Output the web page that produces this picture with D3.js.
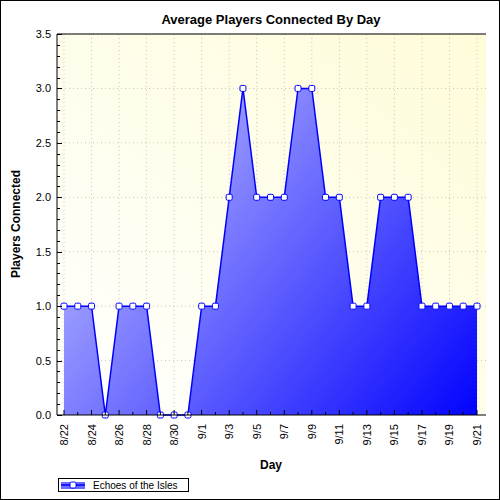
<!DOCTYPE html><html><head><script src="https://cdn.jsdelivr.net/npm/d3@7"></script>
<style>body{margin:0}text{font-family:"Liberation Sans",Arial,sans-serif}</style></head><body><svg id="c" width="500" height="500"></svg>
<script>
const days=["8/22","8/23","8/24","8/25","8/26","8/27","8/28","8/29","8/30","8/31","9/1","9/2","9/3","9/4","9/5","9/6","9/7","9/8","9/9","9/10","9/11","9/12","9/13","9/14","9/15","9/16","9/17","9/18","9/19","9/20","9/21"];
const values=[1,1,1,0,1,1,1,0,0,0,1,1,2,3,2,2,2,3,3,2,2,1,1,2,2,2,1,1,1,1,1];
const yTicks=[0,0.5,1,1.5,2,2.5,3,3.5];
const seriesName="Echoes of the Isles";
const svg=d3.select("#c");
const L=57,R=486,T=34,B=415;
const x=d3.scaleLinear().domain([0,days.length-1]).range([64,477]);
const y=d3.scaleLinear().domain([0,3.5]).range([B,T]);
const defs=svg.append("defs");
const bg=defs.append("linearGradient").attr("id","bg").attr("x1","0").attr("y1","1").attr("x2","1").attr("y2","0");
bg.append("stop").attr("offset","0").attr("stop-color","#ffffff");
bg.append("stop").attr("offset","1").attr("stop-color","#fefcd8");
const fg=defs.append("linearGradient").attr("id","fg").attr("gradientUnits","userSpaceOnUse").attr("x1",L).attr("y1",T+40).attr("x2",R).attr("y2",B);
fg.append("stop").attr("offset","0").attr("stop-color","#d4d4ff");
fg.append("stop").attr("offset","1").attr("stop-color","#0000ff");
svg.append("rect").attr("x",0.5).attr("y",0.5).attr("width",499).attr("height",499).attr("fill","#fff").attr("stroke","#000");
svg.append("rect").attr("x",L).attr("y",T).attr("width",R-L).attr("height",B-T).attr("fill","url(#bg)");
const g=svg.append("g").attr("stroke","#c8c8b4").attr("stroke-dasharray","1,3");
yTicks.slice(1).forEach(v=>g.append("line").attr("x1",L).attr("x2",R).attr("y1",y(v)).attr("y2",y(v)));
days.forEach((d,i)=>{if(i%2==0)g.append("line").attr("x1",x(i)).attr("x2",x(i)).attr("y1",T).attr("y2",B);});
const area=d3.area().x((d,i)=>x(i)).y0(B).y1(d=>y(d));
svg.append("path").datum(values).attr("d",area).attr("fill","url(#fg)");
svg.append("path").datum(values).attr("d",d3.line().x((d,i)=>x(i)).y(d=>y(d))).attr("fill","none").attr("stroke","#0000ff").attr("stroke-width",1.5);
svg.selectAll("rect.pt").data(values).join("rect").attr("x",(d,i)=>x(i)-3).attr("y",d=>y(d)-3).attr("width",6).attr("height",6).attr("rx",1.5).attr("fill","#fff").attr("stroke","#0000ff");
const ax=svg.append("g").attr("stroke","#000");
ax.append("line").attr("x1",L).attr("x2",R).attr("y1",T).attr("y2",T);
ax.append("line").attr("x1",L).attr("x2",L).attr("y1",T).attr("y2",B);
ax.append("line").attr("x1",L).attr("x2",R).attr("y1",B).attr("y2",B);
d3.range(0,3.51,0.1).forEach(v=>{const major=Math.abs(v*2-Math.round(v*2))<1e-6;ax.append("line").attr("x1",L).attr("x2",L+(major?5:3)).attr("y1",Math.round(y(v))+0.5).attr("y2",Math.round(y(v))+0.5);});
days.forEach((d,i)=>{const major=i%2==0;ax.append("line").attr("x1",x(i)).attr("x2",x(i)).attr("y1",B).attr("y2",B-(major?5:3));});
yTicks.forEach(v=>svg.append("text").attr("x",L-6).attr("y",y(v)+4).attr("text-anchor","end").attr("font-size",11).text(v.toFixed(1)));
days.forEach((d,i)=>{if(i%2==0)svg.append("text").attr("transform",`translate(${x(i)+4},${B+9}) rotate(-90)`).attr("text-anchor","end").attr("font-size",11).text(d);});
svg.append("text").attr("x",271).attr("y",24).attr("text-anchor","middle").attr("font-size",13).attr("font-weight","bold").text("Average Players Connected By Day");
svg.append("text").attr("x",271).attr("y",469).attr("text-anchor","middle").attr("font-size",12).attr("font-weight","bold").text("Day");
svg.append("text").attr("transform","translate(20,224) rotate(-90)").attr("text-anchor","middle").attr("font-size",12).attr("font-weight","bold").text("Players Connected");
const lg=svg.append("g");
lg.append("rect").attr("x",58.5).attr("y",478.5).attr("width",130).attr("height",13).attr("fill","#fff").attr("stroke","#000");
lg.append("rect").attr("x",61).attr("y",482).attr("width",24).attr("height",7).attr("fill","url(#fg)");
lg.append("line").attr("x1",61).attr("x2",85).attr("y1",485).attr("y2",485).attr("stroke","#0000ff").attr("stroke-width",1.5);
lg.append("rect").attr("x",70).attr("y",482).attr("width",6).attr("height",6).attr("rx",1.5).attr("fill","#fff").attr("stroke","#0000ff");
lg.append("text").attr("x",93).attr("y",489).attr("font-size",10).text(seriesName);
</script></body></html>
